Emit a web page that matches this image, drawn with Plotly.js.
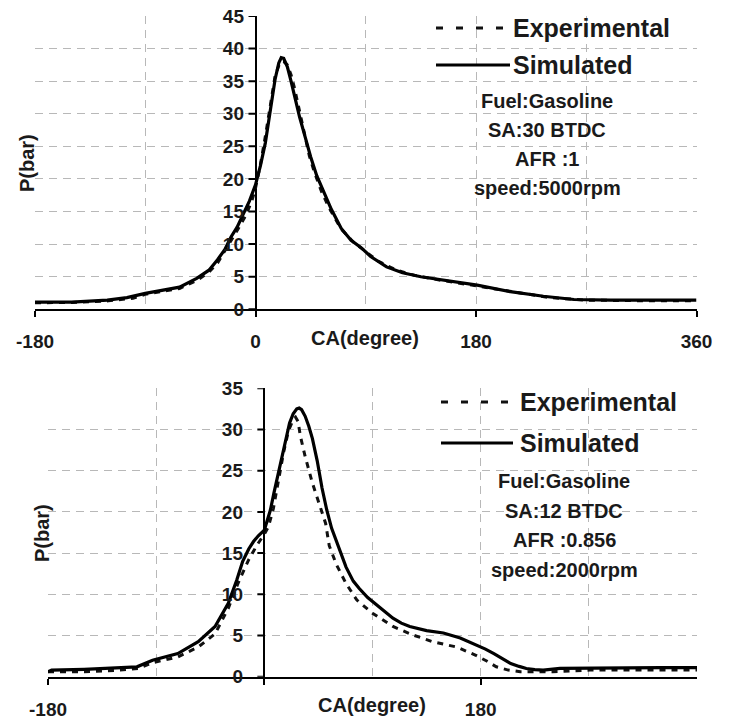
<!DOCTYPE html>
<html>
<head>
<meta charset="utf-8">
<script src="https://cdn.plot.ly/plotly-3.0.1.min.js"></script>
<style>html,body{margin:0;padding:0;background:#fff;}#chart{width:730px;height:719px;}</style>
</head>
<body>
<div id="chart"></div>
<script>
// ---------- DATA ----------
// Top chart: Gasoline, SA 30 BTDC, AFR 1, 5000 rpm
const topSimCA = [-180,-150,-121,-105,-90,-75,-62,-48,-38,-31,-25,-20,-15,-10,-5,0,4,8,12,16,19,21,23,26,29,32,36,40,45,50,56,62,70,78,86,94,107,120,135,155,181,208,235,260,290,330,360];
const topSimP  = [1.1,1.1,1.4,1.8,2.45,2.9,3.4,4.75,6.0,7.6,9.2,11.1,12.6,14.6,16.6,19.1,22.0,25.5,30.4,35.3,37.8,38.6,38.5,37.2,35.0,32.5,29.5,26.8,23.4,20.5,17.9,15.3,12.4,10.6,9.5,8.1,6.5,5.6,5.0,4.4,3.7,2.7,2.0,1.5,1.4,1.4,1.4];
const topExpCA = [-180,-150,-120,-100,-90,-75,-62,-48,-38,-31,-20,-14,-8,-3,0,4,8,12,16,20,23,26,29,32,35,39,44,48,54,60,70,80,90,100,115,130,150,180,210,240,270,300,330,360];
const topExpP  = [1.0,1.05,1.3,1.7,2.3,2.8,3.2,4.4,5.7,7.1,10.4,12.4,14.4,16.6,18.6,22.2,26.5,31.5,35.8,37.9,38.0,37.5,36.0,33.8,31.2,27.3,23.5,21.1,18.0,15.6,12.3,10.3,8.8,7.4,6.0,5.2,4.5,3.6,2.6,1.8,1.4,1.3,1.3,1.3];

// Bottom chart: Gasoline, SA 12 BTDC, AFR 0.856, 2000 rpm
const botSimCA = [-180,-177,-150,-130,-106,-93,-80,-72,-55,-41,-30,-23,-18,-13,-9,-5,0,5,8,12,15,18,21,24,27,29,31,34,37,40,44,48,52,56,62,68,74,79,86,93,100,107,114,121,135,149,163,177,184,191,198,205,212,218,225,232,246,270,300,330,360];
const botSimP  = [0.6,0.8,0.9,1.0,1.2,2.0,2.5,2.8,4.25,6.1,8.9,11.7,14.0,15.5,16.4,17.1,17.8,20.2,22.3,24.9,27.0,29.1,30.8,31.9,32.5,32.6,32.4,31.6,30.4,28.9,26.2,22.9,20.2,18.0,15.6,13.3,11.6,10.7,9.6,8.8,8.0,7.1,6.5,6.1,5.6,5.3,4.7,3.85,3.35,2.8,2.2,1.6,1.25,1.0,0.85,0.8,1.0,1.05,1.1,1.1,1.1];
const botExpCA = [-180,-150,-120,-105,-93,-80,-72,-55,-41,-30,-22,-13,-6,0,3.4,7.5,12,16,20,24,26,28,30,34,40,45,51,54,60,68,77,90,107,123,140,160,176,185,193,203,213,240,271,300,324,360];
const botExpP  = [0.6,0.6,0.8,1.0,1.7,2.1,2.4,3.6,5.2,8.3,11.3,14.2,16.0,17.3,18.2,20.4,24.0,27.2,29.8,31.2,31.5,31.0,29.2,26.7,23.5,21.3,18.6,15.9,13.6,11.3,9.3,7.7,6.1,5.1,4.25,3.6,2.6,1.9,1.2,0.8,0.6,0.6,0.8,0.8,0.8,0.8];

const seriesNames = ['Experimental','Simulated'];
const topInfo = ['Fuel:Gasoline','SA:30 BTDC','AFR :1','speed:5000rpm'];
const botInfo = ['Fuel:Gasoline','SA:12 BTDC','AFR :0.856','speed:2000rpm'];
const xTitle = 'CA(degree)';
const yTitle = 'P(bar)';
const topXTickVals = [-180,0,180,360];
const topXTickText = ['-180','0','180','360'];
const botXTickVals = [-180,0,180];
const botXTickText = ['-180','','180'];
const topYMax = 45;
const botYMax = 35;
const yStep = 5;

// ---------- LAYOUT HELPERS ----------
const W = 730, H = 719;
const px = x => x / W;
const py = y => 1 - y / H;
const FONT = '"Liberation Sans", Arial, Helvetica, sans-serif';
const TXT = '#1a1a1a';
const GRID = '#b8b8b8';
const GDASH = '8px,6px';

const topXDom = [px(35), px(696.5)];
const topYDom = [py(309.3), py(16)];
const botXDom = [px(48), px(697)];
const botYDom = [py(676.7), py(388.3)];
const xr = [-180, 360];
const zeroPos = d => d[0] + (0 - xr[0]) / (xr[1] - xr[0]) * (d[1] - d[0]);
const tickFont = {family: FONT, size: 19, color: TXT, weight: 'bold'};

function xAxis(dom, anchor, tv, tt) {
  return {
    domain: dom, range: xr, anchor: anchor,
    tickmode: 'array', tickvals: tv, ticktext: tt,
    ticks: 'outside', ticklen: 6, tickwidth: 2, tickcolor: '#000',
    ticklabelstandoff: 8,
    showline: true, linecolor: '#000', linewidth: 2,
    showgrid: true, gridcolor: GRID, griddash: GDASH, gridwidth: 1,
    minor: {tick0: -180, dtick: 90, showgrid: true, gridcolor: GRID, griddash: GDASH, gridwidth: 1, ticks: ''},
    // the vertical axis line at CA = 0
    zeroline: true, zerolinecolor: '#000', zerolinewidth: 2,
    fixedrange: true,
    tickfont: tickFont
  };
}
// y axis: grid across the plot, tick labels pulled in next to CA = 0
function yAxis(dom, anchor, ymax, standoff) {
  return {
    domain: dom, range: [0, ymax], anchor: anchor,
    tickmode: 'linear', tick0: 0, dtick: yStep,
    ticks: '', showline: false,
    ticklabelstandoff: standoff,
    showgrid: true, gridcolor: GRID, griddash: GDASH, gridwidth: 1,
    zeroline: false, fixedrange: true,
    tickfont: tickFont
  };
}

const expLine = {color: '#111', width: 3, dash: '6px,6px'};
const simLine = {color: '#000', width: 3.2};

const traces = [
  {x: topExpCA, y: topExpP, xaxis: 'x', yaxis: 'y', mode: 'lines', name: seriesNames[0], line: expLine, showlegend: false},
  {x: topSimCA, y: topSimP, xaxis: 'x', yaxis: 'y', mode: 'lines', name: seriesNames[1], line: simLine, showlegend: false},
  {x: botExpCA, y: botExpP, xaxis: 'x2', yaxis: 'y2', mode: 'lines', name: seriesNames[0], line: expLine, showlegend: false},
  {x: botSimCA, y: botSimP, xaxis: 'x2', yaxis: 'y2', mode: 'lines', name: seriesNames[1], line: simLine, showlegend: false}
];

const annotations = [];
const shapes = [];
// small y tick marks on the axis line at CA = 0
function yTickMarks(xdom, yref, ymax) {
  const xz = zeroPos(xdom);
  for (let v = 0; v <= ymax; v += yStep) {
    shapes.push({type: 'line', xref: 'paper', yref: yref, x0: xz - px(7), x1: xz, y0: v, y1: v,
                 line: {color: '#000', width: 2}});
  }
}
function legendBlock(x0, x1, yExp, ySim, tx) {
  shapes.push({type: 'line', xref: 'paper', yref: 'paper', x0: px(x0), x1: px(x1), y0: py(yExp), y1: py(yExp),
               line: {color: '#111', width: 3, dash: '7px,13px'}});
  shapes.push({type: 'line', xref: 'paper', yref: 'paper', x0: px(x0), x1: px(x1), y0: py(ySim), y1: py(ySim),
               line: {color: '#000', width: 3}});
  annotations.push({xref: 'paper', yref: 'paper', x: px(tx), y: py(yExp), xanchor: 'left', yanchor: 'middle',
                    text: seriesNames[0], showarrow: false, font: {family: FONT, size: 25, color: TXT, weight: 'bold'}});
  annotations.push({xref: 'paper', yref: 'paper', x: px(tx), y: py(ySim), xanchor: 'left', yanchor: 'middle',
                    text: seriesNames[1], showarrow: false, font: {family: FONT, size: 25, color: TXT, weight: 'bold'}});
}
function infoBlock(lines, cx, ys) {
  lines.forEach((t, i) => annotations.push({xref: 'paper', yref: 'paper', x: px(cx), y: py(ys[i]),
    xanchor: 'center', yanchor: 'middle', text: t, showarrow: false,
    font: {family: FONT, size: 20, color: TXT, weight: 'bold'}}));
}
function axisText(text, x, y, angle) {
  annotations.push({xref: 'paper', yref: 'paper', x: px(x), y: py(y), xanchor: 'center', yanchor: 'middle',
    text: text, textangle: angle || 0, showarrow: false, font: {family: FONT, size: 20, color: TXT, weight: 'bold'}});
}

yTickMarks(topXDom, 'y', topYMax);
yTickMarks(botXDom, 'y2', botYMax);
legendBlock(436, 510, 28, 65, 511);
legendBlock(441, 513, 402, 443, 518);
infoBlock(topInfo, 547, [101, 130, 159, 188]);
infoBlock(botInfo, 564, [481, 511, 540, 570]);
axisText(xTitle, 365, 338);
axisText(xTitle, 372, 705);
axisText(yTitle, 27, 163, -90);
axisText(yTitle, 42, 533, -90);

const layout = {
  width: W, height: H,
  margin: {l: 0, r: 0, t: 0, b: 0},
  paper_bgcolor: '#fff', plot_bgcolor: 'rgba(0,0,0,0)',
  font: {family: FONT, color: TXT},
  showlegend: false,
  xaxis: xAxis(topXDom, 'y', topXTickVals, topXTickText),
  yaxis: yAxis(topYDom, 'x', topYMax, -210),
  xaxis2: xAxis(botXDom, 'y2', botXTickVals, botXTickText),
  yaxis2: yAxis(botYDom, 'x2', botYMax, -196),
  annotations: annotations,
  shapes: shapes
};

Plotly.newPlot('chart', traces, layout, {displayModeBar: false, staticPlot: true});
</script>
</body>
</html>
